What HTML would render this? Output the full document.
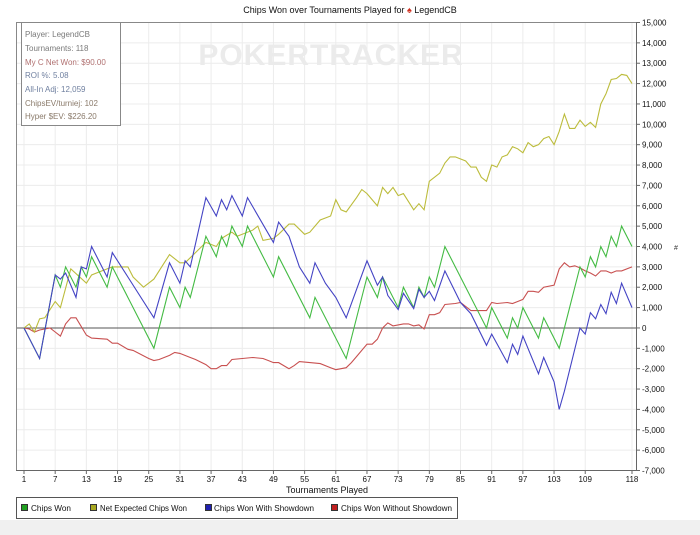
<!DOCTYPE html>
<html><head><meta charset="utf-8"><style>
html,body{margin:0;padding:0;background:#fff;}
body{width:700px;height:535px;overflow:hidden;position:relative;font-family:"Liberation Sans",sans-serif;}
svg{position:absolute;left:0;top:0;}
</style></head><body>
<svg id="chart" width="700" height="535" xmlns="http://www.w3.org/2000/svg" font-family="Liberation Sans, sans-serif">
<rect x="0" y="520" width="700" height="15" fill="#f0f0f0"/>
<text x="350" y="13" text-anchor="middle" font-size="9" fill="#111">Chips Won over Tournaments Played for <tspan fill="#d03020">♠</tspan> LegendCB</text>
<g id="grid"></g>
<text x="331" y="65" text-anchor="middle" font-size="30" font-weight="bold" fill="#ebebeb" letter-spacing="1">POKERTRACKER</text>
<g id="series"></g>
<line x1="16" y1="22.5" x2="637" y2="22.5" stroke="#888"/>
<line x1="16.5" y1="22" x2="16.5" y2="471" stroke="#888"/>
<line x1="16" y1="470.5" x2="637" y2="470.5" stroke="#666"/>
<line x1="636.5" y1="22" x2="636.5" y2="471" stroke="#666"/>
<g id="axes"></g>
<text x="327" y="493" text-anchor="middle" font-size="9" fill="#111">Tournaments Played</text>
<text x="676" y="250" text-anchor="middle" font-size="7" fill="#333">#</text>
<g>
<rect x="21.5" y="22.5" width="99" height="103" fill="#fff" stroke="#888"/>
<g font-size="8">
<text x="25" y="37" fill="#7a7a7a">Player: LegendCB</text>
<text x="25" y="51" fill="#7a7a7a">Tournaments: 118</text>
<text x="25" y="65" fill="#b07070">My C Net Won: $90.00</text>
<text x="25" y="78" fill="#7080a0">ROI %: 5.08</text>
<text x="25" y="92" fill="#7080a0">All-In Adj: 12,059</text>
<text x="25" y="106" fill="#8a7a6a">ChipsEV/turniej: 102</text>
<text x="25" y="119" fill="#8a7a6a">Hyper $EV: $226.20</text>
</g></g>
<g>
<rect x="16.5" y="497.5" width="441" height="21" fill="#fff" stroke="#555"/>
<g font-size="8.5" fill="#111">
<g><rect x="21.5" y="504.5" width="6" height="6" fill="#20a020" stroke="#333"/><text x="31" y="511" textLength="40" lengthAdjust="spacingAndGlyphs">Chips Won</text></g>
<g><rect x="90.5" y="504.5" width="6" height="6" fill="#a8a820" stroke="#333"/><text x="100" y="511" textLength="87" lengthAdjust="spacingAndGlyphs">Net Expected Chips Won</text></g>
<g><rect x="205.5" y="504.5" width="6" height="6" fill="#2020b0" stroke="#333"/><text x="214" y="511" textLength="100" lengthAdjust="spacingAndGlyphs">Chips Won With Showdown</text></g>
<g><rect x="331.5" y="504.5" width="6" height="6" fill="#c02020" stroke="#333"/><text x="341" y="511" textLength="111" lengthAdjust="spacingAndGlyphs">Chips Won Without Showdown</text></g>
</g></g>
</svg>
<script>
var xTicks=[1,7,13,19,25,31,37,43,49,55,61,67,73,79,85,91,97,103,109,118];
var yTicks=[15000,14000,13000,12000,11000,10000,9000,8000,7000,6000,5000,4000,3000,2000,1000,0,-1000,-2000,-3000,-4000,-5000,-6000,-7000];
var greenT=[1,4,7,8,9,11,12,13,14,17,18,26,29,31,32,33,36,38,39,40,41,43,44,49,50,56,57,63,67,69,70,73,74,76,77,78,79,80,82,90,91,94,95,96,97,100,101,104,108,109,110,111,112,113,114,115,116,118];
var greenV=[0,-1500,2600,2000,3000,2000,3000,2500,3500,2000,3000,-1000,2000,1000,2000,1500,4500,3500,4500,4000,5000,4000,5000,2500,3500,500,1500,-1500,2500,1500,2500,1000,2000,1000,2000,1500,2500,2000,4000,0,1000,-500,500,0,1000,-500,500,-1000,3000,2500,3500,3000,4000,3500,4500,4000,5000,4000];
var blueT=[1,4,7,8,9,11,12,13,14,17,18,21,26,29,31,32,33,36,38,39,40,41,43,44,49,50,52,54,56,57,59,61,63,67,69,70,71,73,74,76,77,78,79,80,82,85,87,90,91,94,95,96,97,100,101,103,104,105,108,109,110,111,112,113,114,115,116,118];
var blueV=[0,-1500,2600,2400,2700,1500,3000,2900,4000,2500,3700,2500,500,3200,2200,3300,3000,6400,5500,6300,5800,6500,5500,6400,4200,5200,4500,3000,2200,3200,2200,1500,500,3300,2100,2500,1600,900,1700,950,1900,1500,1800,1350,2800,1250,700,-850,-300,-1700,-800,-1300,-400,-2250,-1450,-2650,-4000,-3100,0,-300,750,450,1150,700,1750,1200,2200,1000];
var yellowT=[1,2,3,4,5,7,8,10,13,14,16,18,21,22,24,26,29,31,32,34,36,38,39,41,42,45,46,47,49,50,52,53,55,56,58,59,60,61,62,63,65,66,67,69,70,71,72,73,74,76,77,78,79,81,82,83,84,86,87,88,89,90,91,92,93,94,95,96,97,98,99,100,101,102,103,104,105,106,107,108,109,110,111,112,113,114,115,116,117,118];
var yellowV=[0,200,-200,450,500,1300,1000,2900,2200,2600,2800,3000,3000,2500,2000,2400,3600,3200,3200,3700,4200,4000,4400,4700,4500,4800,5000,4300,4400,4600,5100,5100,4600,4700,5300,5400,5500,6300,5800,5700,6400,6800,6600,6000,6900,6600,6900,6500,6600,5800,6100,5800,7200,7600,8100,8400,8400,8200,7900,7900,7400,7200,8000,7900,8400,8500,8900,8800,8600,9100,8900,9000,9300,9400,9000,9650,10500,9800,9800,10200,9900,10100,9850,11000,11500,12200,12250,12450,12400,12000];
var redT=[1,2,3,4,6,7,8,9,10,11,13,14,17,18,19,21,22,25,26,27,29,30,31,33,34,36,37,38,39,40,41,43,45,47,48,49,50,52,53,54,56,58,60,61,63,64,65,67,68,69,70,71,72,74,75,76,77,78,79,80,81,82,84,85,87,90,91,92,94,95,96,97,98,99,100,101,103,104,105,106,107,108,109,110,111,112,113,114,115,116,118];
var redV=[0,-50,-200,-100,0,-200,-400,200,500,500,-350,-500,-550,-750,-750,-1050,-1100,-1500,-1600,-1550,-1350,-1200,-1250,-1450,-1550,-1800,-2000,-2000,-1850,-1850,-1550,-1500,-1450,-1500,-1600,-1700,-1700,-2000,-1850,-1650,-1700,-1750,-1950,-2050,-1950,-1700,-1400,-800,-800,-550,0,250,100,200,200,100,150,-50,650,650,750,1150,1200,1250,850,850,1250,1200,1250,1200,1300,1400,1800,1800,1750,2000,2100,2900,3200,3000,3050,2950,2800,2700,2550,2800,2800,2700,2800,2800,3000];

var NS='http://www.w3.org/2000/svg';
function xs(t){return 24+(t-1)*(632-24)/117;}
function ys(v){return 22.5+(15000-v)*(448/22000);}
function fmt(v){var s=Math.abs(v).toString().replace(/\B(?=(\d{3})+(?!\d))/g,',');return (v<0?'-':'')+s;}
var grid=document.getElementById('grid'),axes=document.getElementById('axes'),ser=document.getElementById('series');
xTicks.forEach(function(t){
  var l=document.createElementNS(NS,'line');
  l.setAttribute('x1',xs(t));l.setAttribute('x2',xs(t));l.setAttribute('y1',22);l.setAttribute('y2',470);
  l.setAttribute('stroke','#ececec');
  
  
  grid.appendChild(l);
  var k=document.createElementNS(NS,'line');
  k.setAttribute('x1',xs(t));k.setAttribute('x2',xs(t));k.setAttribute('y1',470);k.setAttribute('y2',474);
  k.setAttribute('stroke','#666');
  
  
  axes.appendChild(k);
  var tx=document.createElementNS(NS,'text');
  tx.setAttribute('x',xs(t));tx.setAttribute('y',482);tx.setAttribute('text-anchor','middle');
  tx.setAttribute('font-size','8');tx.setAttribute('fill','#111');tx.textContent=t;
  
  
  axes.appendChild(tx);
});
yTicks.forEach(function(v){
  var y=ys(v);
  var l=document.createElementNS(NS,'line');
  l.setAttribute('x1',16);l.setAttribute('x2',636);l.setAttribute('y1',y);l.setAttribute('y2',y);
  l.setAttribute('stroke',v===0?'#555':'#ececec');
  
  
  (v===0?ser:grid).appendChild(l);
  var k=document.createElementNS(NS,'line');
  k.setAttribute('x1',636);k.setAttribute('x2',640);k.setAttribute('y1',y);k.setAttribute('y2',y);
  k.setAttribute('stroke','#666');
  
  
  axes.appendChild(k);
  var tx=document.createElementNS(NS,'text');
  tx.setAttribute('x',642);tx.setAttribute('y',y+3);tx.setAttribute('font-size','8');tx.setAttribute('fill','#111');
  tx.textContent=fmt(v);
  
  
  axes.appendChild(tx);
});
function draw(T,V,color,name){
  var pts=T.map(function(t,i){return xs(t).toFixed(1)+','+ys(V[i]).toFixed(1);}).join(' ');
  var p=document.createElementNS(NS,'polyline');
  p.setAttribute('points',pts);p.setAttribute('fill','none');p.setAttribute('stroke',color);p.setAttribute('stroke-width','1.1');
  
  
  ser.appendChild(p);
}
draw(redT,redV,'#c85050','series-without-showdown');
draw(yellowT,yellowV,'#bcbc3c','series-net-expected');
draw(greenT,greenV,'#44bb44','series-chips-won');
draw(blueT,blueV,'#4444c4','series-with-showdown');
</script>
</body></html>
